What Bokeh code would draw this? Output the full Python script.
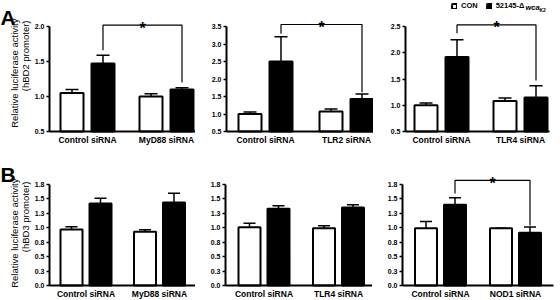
from math import pi
from bokeh.plotting import figure
from bokeh.layouts import column, row
from bokeh.models import (Range1d, FixedTicker, Whisker, TeeHead, ColumnDataSource,
                          Label, Legend, LegendItem)
from bokeh.embed import file_html
from bokeh.resources import INLINE
from bokeh.core.properties import value

FONT = "Liberation Sans"

# ---------------- data ----------------
# Panel A: hBD2 promoter
a_groups = [["Control siRNA", "MyD88 siRNA"],
            ["Control siRNA", "TLR2 siRNA"],
            ["Control siRNA", "TLR4 siRNA"]]
a_con = [[1.05, 1.00], [1.00, 1.07], [1.00, 1.08]]
a_con_err = [[0.05, 0.04], [0.06, 0.07], [0.045, 0.06]]
a_k2 = [[1.47, 1.10], [2.50, 1.43], [1.92, 1.15]]
a_k2_err = [[0.12, 0.025], [0.71, 0.14], [0.33, 0.22]]
a_ticks = [[0.5, 1.0, 1.5, 2.0],
           [0.5, 1.0, 1.5, 2.0, 2.5, 3.0, 3.5],
           [0.5, 1.0, 1.5, 2.0, 2.5]]
a_tick_labels = [["0.5", "1.0", "1.5", "2.0"],
                 ["0.5", "1.0", "1.5", "2.0", "2.5", "3.0", "3.5"],
                 ["0.5", "1.0", "1.5", "2.0", "2.5"]]
# significance brackets: (bracket level, left leg end, right leg end)
a_sig = [(2.02, 1.66, 1.20), (3.557, 3.29, 1.62), (2.53, 2.37, 1.47)]

# Panel B: hBD3 promoter
b_groups = [["Control siRNA", "MyD88 siRNA"],
            ["Control siRNA", "TLR4 siRNA"],
            ["Control siRNA", "NOD1 siRNA"]]
b_con = [[0.97, 0.93], [1.01, 0.99], [0.99, 0.99]]
b_con_err = [[0.05, 0.035], [0.07, 0.045], [0.12, 0.0]]
b_k2 = [[1.42, 1.44], [1.33, 1.35], [1.40, 0.915]]
b_k2_err = [[0.09, 0.16], [0.05, 0.05], [0.12, 0.10]]
b_ticks = [0.0, 0.25, 0.5, 0.75, 1.0, 1.25, 1.5, 1.75]
b_tick_labels = ["0.0", "0.3", "0.5", "0.8", "1.0", "1.3", "1.5", "1.8"]
b_sig = [None, None, (1.82, 1.594, 1.04)]

legend_labels = ["CON", "52145-Δ"]

# ---------------- layout geometry (pixels) ----------------
# (canvas width, y-axis x in canvas, axis frame width, first group centre offset, px per group)
A_GEOM = [(195, 49, 146, 38, 79), (178, 31, 147, 39, 81), (187, 32, 144, 36, 79)]
B_GEOM = [(195, 49, 146, 36.5, 73.5), (177, 30, 147, 38.5, 74.5), (188, 30, 151, 38, 75)]
H = 150


def make_panel(geom, base_px, axis_px, y_lo, ticks, labels, groups, con, con_err,
               k2, k2_err, sig, bar_px, off_px, cap_px):
    W, lb, fw, pad, unit = geom
    ppu = axis_px / (ticks[-1] - y_lo)
    x_axis_pos = -pad / unit
    x_start = x_axis_pos - lb / unit
    x_end = x_start + W / unit
    y_start = y_lo - (H - base_px) / ppu
    y_end = y_lo + base_px / ppu

    def to_data(cx, cy):
        return x_start + cx / unit, y_lo + (base_px - cy) / ppu

    p = figure(width=W, height=H, output_backend="svg", toolbar_location=None,
               x_range=Range1d(x_start, x_end), y_range=Range1d(y_start, y_end),
               min_border=0)
    p.outline_line_color = None
    p.grid.visible = False
    p.background_fill_color = "white"
    p.border_fill_color = "white"

    off = off_px / unit
    bw = (bar_px - 2) / unit
    xs = [0, 1]
    src_c = ColumnDataSource(dict(x=[x - off for x in xs], top=con,
                                  up=[v + e for v, e in zip(con, con_err)]))
    src_k = ColumnDataSource(dict(x=[x + off for x in xs], top=k2,
                                  up=[v + e for v, e in zip(k2, k2_err)]))
    r_c = p.vbar(x="x", top="top", bottom=y_lo, width=bw, source=src_c,
                 fill_color="white", line_color="black", line_width=2)
    r_k = p.vbar(x="x", top="top", bottom=y_lo, width=bw, source=src_k,
                 fill_color="black", line_color="black", line_width=2)
    for src in (src_c, src_k):
        w = Whisker(base="x", lower="top", upper="up", source=src, lower_head=None,
                    upper_head=TeeHead(size=cap_px, line_width=1.5, line_color="black"),
                    line_width=1.5, line_color="black", level="glyph")
        p.add_layout(w)

    if sig is not None:
        lvl, l_end, r_end = sig
        xl, xr = 0 + off, 1 + off
        p.line(x=[xl, xl, xr, xr], y=[l_end, lvl, lvl, r_end], line_color="black",
               line_width=1.2)
        p.text(x=[(xl + xr) / 2], y=[lvl], text=["*"], text_font=value(FONT),
               text_font_style="bold", text_font_size="16px", text_align="center",
               text_baseline="alphabetic", text_color="black", y_offset=3)

    # axes drawn at fixed data locations inside the canvas
    xa = p.xaxis[0]
    xa.fixed_location = y_lo
    xa.bounds = (x_axis_pos, x_axis_pos + fw / unit)
    xa.ticker = FixedTicker(ticks=xs)
    xa.major_label_overrides = {0: groups[0], 1: groups[1]}
    xa.major_tick_line_color = None
    xa.major_tick_out = 0
    xa.major_tick_in = 0
    xa.minor_tick_line_color = None
    xa.axis_line_width = 2
    xa.axis_line_color = "black"
    xa.major_label_standoff = 3
    xa.major_label_text_font = FONT
    xa.major_label_text_font_style = "bold"
    xa.major_label_text_font_size = "8.5px"
    xa.major_label_text_color = "black"

    ya = p.yaxis[0]
    ya.fixed_location = x_axis_pos
    ya.ticker = FixedTicker(ticks=ticks)
    ya.major_label_overrides = {t: s for t, s in zip(ticks, labels)}
    ya.bounds = (y_lo, ticks[-1])
    ya.axis_line_width = 2
    ya.axis_line_color = "black"
    ya.major_tick_out = 3
    ya.major_tick_in = 0
    ya.major_tick_line_width = 1.5
    ya.major_tick_line_color = "black"
    ya.minor_tick_line_color = None
    ya.major_label_standoff = 2
    ya.major_label_text_font = FONT
    ya.major_label_text_font_style = "bold"
    ya.major_label_text_font_size = "7px"
    ya.major_label_text_color = "black"
    return p, r_c, r_k, to_data


def add_titles(p, to_data, letter, promoter, letter_base, top1, top2):
    x, y = to_data(0, letter_base)
    p.add_layout(Label(x=x, y=y, text=letter, text_font=FONT, text_font_style="bold",
                       text_font_size="21px", text_baseline="alphabetic",
                       text_align="left", text_color="black"))
    x, y = to_data(14, top1)
    p.add_layout(Label(x=x, y=y, text="Relative luciferase activity", angle=pi / 2,
                       text_font=FONT, text_font_size="9.5px", text_align="right",
                       text_baseline="middle", text_color="black"))
    x, y = to_data(24.5, top2)
    p.add_layout(Label(x=x, y=y, text=promoter, angle=pi / 2,
                       text_font=FONT, text_font_size="9.5px", text_align="right",
                       text_baseline="middle", text_color="black"))


row_a = []
row_b = []
for i in range(3):
    p, rc, rk, to_data = make_panel(A_GEOM[i], 131, 105, 0.5, a_ticks[i], a_tick_labels[i],
                                    a_groups[i], a_con[i], a_con_err[i], a_k2[i],
                                    a_k2_err[i], a_sig[i], 25, 15.5, 13)
    if i == 0:
        add_titles(p, to_data, "A", "(hBD2 promoter)", 17, 18, 20)
    if i == 2:
        legend = Legend(items=[LegendItem(label=legend_labels[0], renderers=[rc]),
                               LegendItem(label=legend_labels[1], renderers=[rk])],
                        location=(451 - 373, H - 10), orientation="horizontal",
                        border_line_color=None, background_fill_alpha=0,
                        padding=0, margin=0, spacing=8, glyph_width=6, glyph_height=6,
                        label_standoff=4, label_height=7, label_width=10,
                        label_text_font=FONT, label_text_font_style="bold",
                        label_text_font_size="7.5px", label_text_color="black")
        p.add_layout(legend)
        x, y = to_data(525 - 373, 6.5)
        p.add_layout(Label(x=x, y=y, text="wca", text_font=FONT,
                           text_font_style="bold italic", text_font_size="7.5px",
                           text_baseline="middle", text_color="black"))
        x, y = to_data(539 - 373, 9)
        p.add_layout(Label(x=x, y=y, text="K2", text_font=FONT, text_font_style="bold",
                           text_font_size="5px", text_baseline="middle",
                           text_color="black"))
    row_a.append(p)

for i in range(3):
    p, rc, rk, to_data = make_panel(B_GEOM[i], 135, 101, 0.0, b_ticks, b_tick_labels,
                                    b_groups[i], b_con[i], b_con_err[i], b_k2[i],
                                    b_k2_err[i], b_sig[i], 24, 14.5, 12)
    if i == 0:
        add_titles(p, to_data, "B", "(hBD3 promoter)", 24, 28, 31)
    row_b.append(p)

layout = column(row(*row_a), row(*row_b))

with open("out.html", "w") as f:
    f.write(file_html(layout, INLINE))
